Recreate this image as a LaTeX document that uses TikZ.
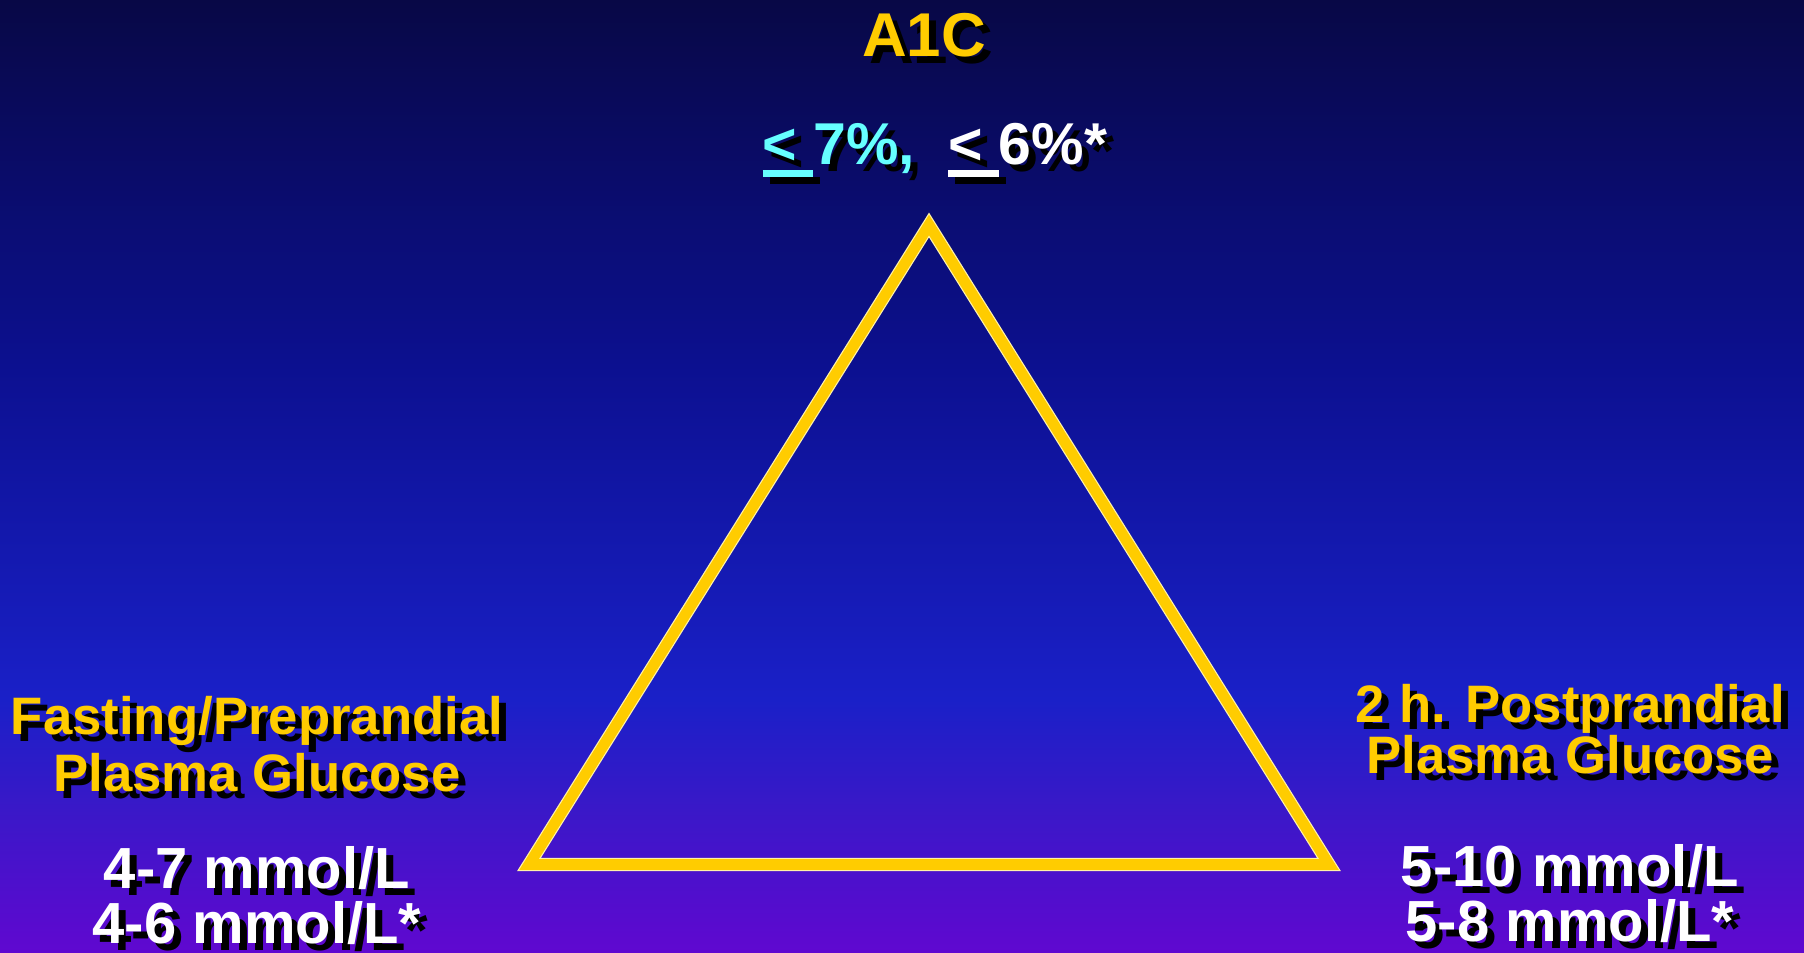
\documentclass[tikz,border=0pt]{standalone}
\usepackage{fontspec}
\setmainfont{Liberation Sans}
\usetikzlibrary{calc}

\definecolor{bgtop}{HTML}{080846}
\definecolor{bgmid}{HTML}{0C1090}
\definecolor{bgblue}{HTML}{1A20C8}
\definecolor{bgvio}{HTML}{3A18C8}
\definecolor{bgbot}{HTML}{6008D0}
\definecolor{goldtxt}{HTML}{FFCC00}
\definecolor{cyantxt}{HTML}{66FFFF}
\definecolor{rimlight}{HTML}{FFF2A8}

\pgfdeclareverticalshading{slidebg}{100bp}{color(0bp)=(bgbot); color(25bp)=(bgbot);
  color(32.5bp)=(bgvio); color(38.3bp)=(bgblue); color(55.8bp)=(bgmid);
  color(75bp)=(bgtop); color(100bp)=(bgtop)}

% underlined "<" with its space
\newcommand{\ulless}{\rlap{\rule[-0.2em]{0.86em}{0.115em}}<\ }

\newcommand{\titlesize}{\fontsize{17.6pt}{21pt}\selectfont\bfseries}
\newcommand{\goalsize}{\fontsize{16.8pt}{20pt}\selectfont\bfseries}
\newcommand{\labelsize}{\fontsize{15pt}{18pt}\selectfont\bfseries}
\newcommand{\valuesize}{\fontsize{16.5pt}{20pt}\selectfont\bfseries}

\tikzset{
  txt/.style={inner sep=0pt, anchor=base},
  dropshade/.style={txt, text=black},
  goldlabel/.style={txt, text=goldtxt},
  whitelabel/.style={txt, text=white},
  trianglestroke/.style={draw=rimlight, line width=0.012cm, double=goldtxt,
    double distance=0.108cm, line join=miter}
}

\begin{document}
\begin{tikzpicture}
    \useasboundingbox (0,0) rectangle (18.04,9.53);
    \shade[shading=slidebg] (0,0) rectangle (18.04,9.53);

    % Triangle
    \coordinate (apex) at (9.29,7.28);
    \coordinate (lcorner) at (5.29,0.885);
    \coordinate (rcorner) at (13.29,0.885);
    \draw[trianglestroke] (apex) -- (lcorner) -- (rcorner) -- cycle;

    % Text anchors (baselines)
    \coordinate (a1c-pos) at (9.24,8.96);
    \coordinate (goal-pos) at (9.35,7.88);
    \coordinate (fast-pos) at (2.57,2.18);
    \coordinate (plasl-pos) at (2.57,1.61);
    \coordinate (fval1-pos) at (2.57,0.64);
    \coordinate (fval2-pos) at (2.57,0.09);
    \coordinate (post-pos) at (15.70,2.30);
    \coordinate (plasr-pos) at (15.70,1.79);
    \coordinate (pval1-pos) at (15.70,0.66);
    \coordinate (pval2-pos) at (15.70,0.11);

    % Shadows
    \node[dropshade, font=\titlesize] (a1c-sh) at ($(a1c-pos)+(0.07,-0.07)$) {A1C};
    \node[dropshade, font=\goalsize] (goal-sh) at ($(goal-pos)+(0.07,-0.07)$)
        {\ulless 7\%,\ \ \ulless 6\%*};
    \node[dropshade, font=\labelsize] (fast-sh) at ($(fast-pos)+(0.07,-0.07)$) {Fasting/Preprandial};
    \node[dropshade, font=\labelsize] (plasl-sh) at ($(plasl-pos)+(0.07,-0.07)$) {Plasma Glucose};
    \node[dropshade, font=\valuesize] (fval1-sh) at ($(fval1-pos)+(0.07,-0.07)$) {4-7 mmol/L};
    \node[dropshade, font=\valuesize] (fval2-sh) at ($(fval2-pos)+(0.07,-0.07)$) {4-6 mmol/L*};
    \node[dropshade, font=\labelsize] (post-sh) at ($(post-pos)+(0.07,-0.07)$) {2 h. Postprandial};
    \node[dropshade, font=\labelsize] (plasr-sh) at ($(plasr-pos)+(0.07,-0.07)$) {Plasma Glucose};
    \node[dropshade, font=\valuesize] (pval1-sh) at ($(pval1-pos)+(0.07,-0.07)$) {5-10 mmol/L};
    \node[dropshade, font=\valuesize] (pval2-sh) at ($(pval2-pos)+(0.07,-0.07)$) {5-8 mmol/L*};

    % Labels
    \node[goldlabel, font=\titlesize] (a1c) at (a1c-pos) {A1C};
    \node[txt, font=\goalsize] (goal) at (goal-pos)
        {{\color{cyantxt}\ulless 7\%,}\ \ {\color{white}\ulless 6\%*}};
    \node[goldlabel, font=\labelsize] (fast) at (fast-pos) {Fasting/Preprandial};
    \node[goldlabel, font=\labelsize] (plasl) at (plasl-pos) {Plasma Glucose};
    \node[whitelabel, font=\valuesize] (fval1) at (fval1-pos) {4-7 mmol/L};
    \node[whitelabel, font=\valuesize] (fval2) at (fval2-pos) {4-6 mmol/L*};
    \node[goldlabel, font=\labelsize] (post) at (post-pos) {2 h. Postprandial};
    \node[goldlabel, font=\labelsize] (plasr) at (plasr-pos) {Plasma Glucose};
    \node[whitelabel, font=\valuesize] (pval1) at (pval1-pos) {5-10 mmol/L};
    \node[whitelabel, font=\valuesize] (pval2) at (pval2-pos) {5-8 mmol/L*};
\end{tikzpicture}
\end{document}
